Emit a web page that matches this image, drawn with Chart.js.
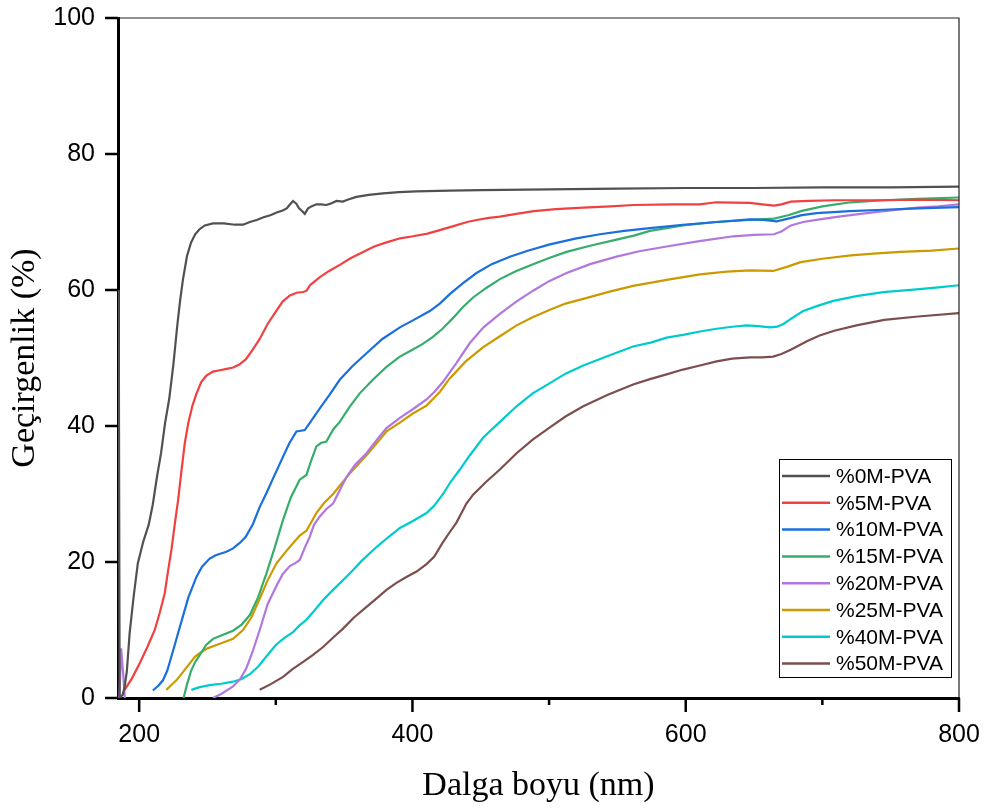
<!DOCTYPE html>
<html>
<head>
<meta charset="utf-8">
<script src="https://cdn.jsdelivr.net/npm/chart.js@4/dist/chart.umd.min.js"></script>
<style>
  html, body { margin: 0; padding: 0; background: #ffffff; }
  #wrap { width: 988px; height: 809px; }
</style>
</head>
<body>
<div id="wrap"><canvas id="c" width="988" height="809"></canvas></div>
<script>
// ---- data: [wavelength (nm), transmittance (%)] ----
const s0M = [[185,60],[185.7,0],[188,0.5],[189.4,1.7],[191,4],[193,9.5],[196,15],[199,19.8],[203,23],[207,25.5],[210,28.5],[213,32.5],[216,36],[219,40.5],[222,44],[225,49],[228,55],[230,58.5],[232,61.5],[235,65],[238,67],[241,68.2],[244,68.9],[248,69.5],[254,69.8],[262,69.8],[270,69.6],[276,69.6],[281,70],[286,70.3],[291,70.7],[296,71],[300.6,71.4],[305,71.7],[308,72],[310,72.5],[312.6,73.1],[315,72.7],[317,72],[318.8,71.7],[321.2,71.2],[323.6,72],[326,72.3],[329.7,72.6],[333,72.6],[337,72.5],[340,72.7],[344.4,73.1],[349,73],[353,73.3],[359,73.7],[368,74],[378.5,74.2],[390,74.4],[403,74.5],[427,74.6],[450,74.7],[500,74.8],[550,74.9],[600,75],[650,75],[700,75.1],[750,75.1],[800,75.2]];
const s5M = [[189.4,1.2],[195,3],[200.4,5.1],[206,7.5],[211.4,10],[215,12.5],[218.7,15.4],[221,18.5],[223.6,21.8],[226,25.5],[228.5,29.1],[231,33.5],[233.4,37.5],[236,40.5],[239,43],[242,44.8],[245.5,46.5],[249.2,47.4],[254,48],[259,48.2],[264,48.4],[268.7,48.6],[273,49],[278,49.8],[283,51.2],[288.2,52.8],[294,55],[300.6,57],[305,58.3],[310.3,59.2],[315.2,59.6],[320,59.7],[322.6,59.9],[325,60.7],[328,61.2],[332.3,61.9],[339,62.8],[346.8,63.7],[355,64.7],[363.9,65.6],[372,66.4],[381,67],[391,67.6],[400.5,67.9],[411,68.3],[420,68.8],[430,69.4],[440,70],[447,70.3],[456,70.6],[464,70.8],[476,71.2],[488.7,71.6],[505,71.9],[525,72.1],[545,72.3],[562,72.5],[590,72.6],[610,72.6],[622.6,72.9],[647,72.8],[656,72.6],[664.7,72.4],[670,72.6],[677,73],[690,73.1],[708.7,73.2],[745,73.2],[770,73.3],[800,73.2]];
const s10M = [[210,1.1],[214,1.8],[217.4,2.6],[220.5,4],[223.6,6.1],[227,8.5],[232,12],[236,14.8],[241.9,17.8],[246,19.3],[251.6,20.5],[256,21],[263.8,21.5],[268.7,22],[273.6,22.8],[278,23.7],[283.3,25.6],[288,28],[293.1,30.1],[298,32.3],[305.3,35.5],[310,37.5],[315.1,39.2],[321.2,39.4],[325,40.5],[332.2,42.6],[339,44.5],[346.8,46.8],[356,48.8],[366.4,50.7],[378,52.8],[390.8,54.5],[400,55.5],[412.7,56.9],[420,58],[427.3,59.4],[437,61],[446.9,62.5],[458,63.8],[471.3,64.9],[485,65.8],[500.6,66.7],[520,67.6],[537.2,68.2],[555,68.7],[573.8,69.1],[598,69.6],[622.6,70],[647,70.4],[657,70.3],[666.5,70.1],[675,70.5],[685,71],[695.8,71.3],[720,71.6],[744.6,71.8],[770,72],[800,72.2]];
const s15M = [[232.5,0],[235,2],[238,4],[241,5.3],[244.3,6.3],[249,7.8],[254,8.7],[260,9.2],[268.7,9.9],[275,10.8],[281,12.2],[287,14.8],[293.1,18.3],[299,22],[305.3,26.2],[311,29.5],[317.5,32.1],[322.4,32.8],[326,35],[329.7,37],[333,37.5],[337,37.7],[342,39.5],[346.8,40.6],[354,42.8],[361.4,44.8],[371,46.8],[381,48.7],[390.8,50.2],[398,51],[407,52],[415,53.1],[422,54.3],[429.8,55.9],[437,57.5],[444.4,58.9],[454,60.3],[464,61.6],[476,62.8],[488.3,63.8],[500,64.7],[512.8,65.6],[530,66.5],[549.4,67.4],[562,68],[573.8,68.7],[598,69.5],[622.6,70],[647,70.3],[664.7,70.5],[675,71],[684.3,71.6],[700,72.3],[720.8,72.9],[745,73.2],[769.6,73.4],[800,73.6]];
const s20M = [[185.5,0],[186.8,7.3],[188.5,3],[189.5,0],[200,null],[254,0],[260,0.6],[268.7,1.7],[274,2.8],[278.5,4.4],[283,6.8],[288.2,10],[294,13.8],[300.5,16.5],[305,18.2],[310.2,19.4],[314,19.8],[317.5,20.3],[321,22],[324.8,23.7],[328,25.5],[332.2,26.7],[337,27.8],[341.9,28.6],[346.7,30.5],[351.7,32.5],[358,34.3],[366.4,36],[374,38],[381,39.7],[390.8,41.2],[400.5,42.5],[410.3,43.9],[416,45],[422.4,46.5],[432,49.2],[442,52.2],[452,54.5],[464,56.5],[476,58.3],[488.3,59.9],[500,61.3],[512.8,62.5],[530,63.8],[549.4,64.9],[566,65.7],[586,66.4],[610,67.2],[634.8,67.9],[650,68.1],[664.7,68.2],[670,68.6],[677,69.5],[686,70],[695.5,70.3],[712,70.8],[732.5,71.3],[750,71.7],[769.6,72.1],[785,72.3],[800,72.6]];
const s25M = [[219.9,1.2],[223,1.8],[227.2,2.6],[232,3.8],[237,5.1],[241,6.1],[244.3,6.6],[250,7.3],[256.5,7.8],[262,8.2],[268.7,8.7],[276,10],[282,11.8],[288.2,14.6],[294,17.3],[300.5,19.8],[306,21.2],[310.2,22.2],[317.5,23.9],[322.4,24.6],[329.7,27.2],[335,28.6],[341.9,30],[348,31.5],[354.1,33],[366.4,35.7],[381,39.2],[390.8,40.5],[400,41.8],[410.3,43],[420,45],[427.3,47],[439,49.5],[451.8,51.6],[464,53.2],[476.2,54.8],[488,56],[500.6,57.1],[512,58],[525,58.7],[545,59.8],[561.5,60.6],[586,61.5],[610.4,62.3],[630,62.7],[647,62.9],[664,62.8],[674,63.4],[684,64.1],[700,64.6],[720.8,65.1],[740,65.4],[757.4,65.6],[780,65.8],[800,66.1]];
const s40M = [[238.2,1.2],[244.3,1.6],[251.6,1.9],[260,2.1],[268.7,2.4],[275,2.8],[281,3.5],[287,4.6],[293.1,6.1],[300,7.8],[306,8.8],[312.6,9.7],[317,10.6],[322.4,11.5],[328,12.8],[334.6,14.4],[341.9,15.9],[354.1,18.3],[363,20.2],[373.7,22.2],[382,23.6],[390.8,25],[400,26],[410.3,27.2],[416,28.3],[422.4,30],[428,31.8],[434.7,33.6],[442,35.7],[451.8,38.3],[464,40.6],[476.2,42.9],[488,44.8],[500.6,46.3],[512,47.7],[525,48.9],[543,50.3],[561.5,51.7],[575,52.3],[586,53],[598,53.4],[610.4,53.9],[622.6,54.3],[634,54.6],[644.6,54.8],[653,54.7],[661.7,54.5],[667,54.6],[671.5,55],[678,55.9],[686,56.9],[697,57.7],[708,58.4],[725,59.1],[744.6,59.7],[769,60.1],[785,60.4],[800,60.7]];
const s50M = [[288.2,1.2],[296,2],[305.3,3.1],[312,4.2],[320,5.3],[327,6.3],[334.6,7.5],[342,8.9],[349.2,10.2],[357,11.8],[366.4,13.4],[374,14.7],[381,15.9],[388,16.9],[395.6,17.8],[403,18.6],[410.3,19.7],[416,20.8],[422,22.8],[427,24.3],[432.2,25.8],[439.5,28.6],[444.4,29.9],[454,31.8],[464,33.6],[476.2,36],[488,38],[500.6,39.8],[512,41.4],[525,42.9],[543,44.6],[561.5,46.1],[573.8,46.9],[586,47.6],[598,48.3],[610.4,48.9],[622.6,49.5],[634,49.9],[647,50.1],[656,50.1],[664,50.2],[670,50.6],[676.9,51.2],[689,52.5],[698,53.3],[708.7,54],[725,54.8],[745.3,55.6],[770,56.1],[800,56.6]];

const seriesNames = ['%0M-PVA','%5M-PVA','%10M-PVA','%15M-PVA','%20M-PVA','%25M-PVA','%40M-PVA','%50M-PVA'];
const seriesData = [s0M, s5M, s10M, s15M, s20M, s25M, s40M, s50M];
const seriesColors = ['#515151','#F14040','#1A6FDF','#37AD6B','#B177DE','#CC9900','#00CBCC','#7D4E4E'];

const xTicks = [200, 300, 400, 500, 600, 700, 800];
const xTickLabels = ['200', '', '400', '', '600', '', '800'];
const yTicks = [0, 20, 40, 60, 80, 100];
const yTickLabels = ['0', '20', '40', '60', '80', '100'];

const SANS = "'Liberation Sans', Arial, sans-serif";
const SERIF = "'Liberation Serif', 'Times New Roman', serif";

const datasets = seriesNames.map((name, i) => ({
  label: name,
  data: seriesData[i].map(p => ({ x: p[0], y: p[1] })),
  borderColor: seriesColors[i],
  backgroundColor: seriesColors[i],
  borderWidth: 2.2,
  pointRadius: 0,
  fill: false,
  tension: 0,
  spanGaps: false
}));

const framePlugin = {
  id: 'frame',
  afterDraw(chart) {
    const { ctx, chartArea: a, scales: { x, y } } = chart;
    ctx.save();
    // thin top/right frame
    ctx.strokeStyle = '#222';
    ctx.lineWidth = 1.2;
    ctx.beginPath();
    ctx.moveTo(a.left, a.top);
    ctx.lineTo(a.right, a.top);
    ctx.lineTo(a.right, a.bottom);
    ctx.stroke();
    // ticks
    ctx.strokeStyle = '#000';
    ctx.lineWidth = 2.5;
    ctx.beginPath();
    yTicks.forEach(v => {
      const py = y.getPixelForValue(v);
      ctx.moveTo(a.left - 13, py);
      ctx.lineTo(a.left, py);
    });
    xTicks.forEach((v, i) => {
      const px = x.getPixelForValue(v);
      const len = xTickLabels[i] ? 14 : 7;
      ctx.moveTo(px, a.bottom);
      ctx.lineTo(px, a.bottom + len);
    });
    ctx.stroke();
    // legend box
    const bw = 172, bh = 218;
    const bx = a.right - 8 - bw, by = a.bottom - 21 - bh;
    ctx.fillStyle = '#fff';
    ctx.fillRect(bx, by, bw, bh);
    ctx.strokeStyle = '#000';
    ctx.lineWidth = 1;
    ctx.strokeRect(bx + 0.5, by + 0.5, bw, bh);
    ctx.font = '21px ' + SANS;
    ctx.textBaseline = 'middle';
    ctx.textAlign = 'left';
    seriesNames.forEach((name, i) => {
      const cy = by + 17 + i * 26.8;
      ctx.strokeStyle = seriesColors[i];
      ctx.lineWidth = 2.5;
      ctx.beginPath();
      ctx.moveTo(bx + 3, cy);
      ctx.lineTo(bx + 51, cy);
      ctx.stroke();
      ctx.fillStyle = '#000';
      ctx.fillText(name, bx + 57, cy + 1);
    });
    ctx.restore();
  }
};

new Chart(document.getElementById('c'), {
  type: 'line',
  data: { datasets },
  options: {
    responsive: false,
    animation: false,
    devicePixelRatio: 1,
    layout: { padding: { left: 0, right: 29, top: 18, bottom: 0 } },
    plugins: { legend: { display: false }, tooltip: { enabled: false } },
    scales: {
      x: {
        type: 'linear',
        min: 184.5,
        max: 800,
        afterBuildTicks: s => { s.ticks = xTicks.map(v => ({ value: v })); },
        afterFit: s => { s.height = 111; s.paddingLeft = 0; s.paddingRight = 0; },
        grid: { display: true, drawOnChartArea: false, drawTicks: false },
        border: { display: true, color: '#000', width: 3 },
        ticks: {
          padding: 22,
          autoSkip: false,
          maxRotation: 0,
          color: '#000',
          font: { family: SANS, size: 25 },
          callback: (v) => { const i = xTicks.indexOf(v); return i >= 0 ? xTickLabels[i] : ''; }
        },
        title: {
          display: true,
          text: 'Dalga boyu (nm)',
          color: '#000',
          font: { family: SERIF, size: 34 },
          padding: { top: 0, bottom: 3 }
        }
      },
      y: {
        type: 'linear',
        min: 0,
        max: 100,
        afterBuildTicks: s => { s.ticks = yTicks.map(v => ({ value: v })); },
        afterFit: s => { s.width = 118; s.paddingTop = 0; s.paddingBottom = 0; },
        grid: { display: true, drawOnChartArea: false, drawTicks: false },
        border: { display: true, color: '#000', width: 3 },
        ticks: {
          padding: 23,
          color: '#000',
          font: { family: SANS, size: 25 },
          callback: (v) => { const i = yTicks.indexOf(v); return i >= 0 ? yTickLabels[i] : ''; }
        },
        title: {
          display: true,
          text: 'Geçirgenlik (%)',
          color: '#000',
          font: { family: SERIF, size: 34 },
          padding: { top: 5, bottom: 0 }
        }
      }
    }
  },
  plugins: [framePlugin]
});
</script>
</body>
</html>
